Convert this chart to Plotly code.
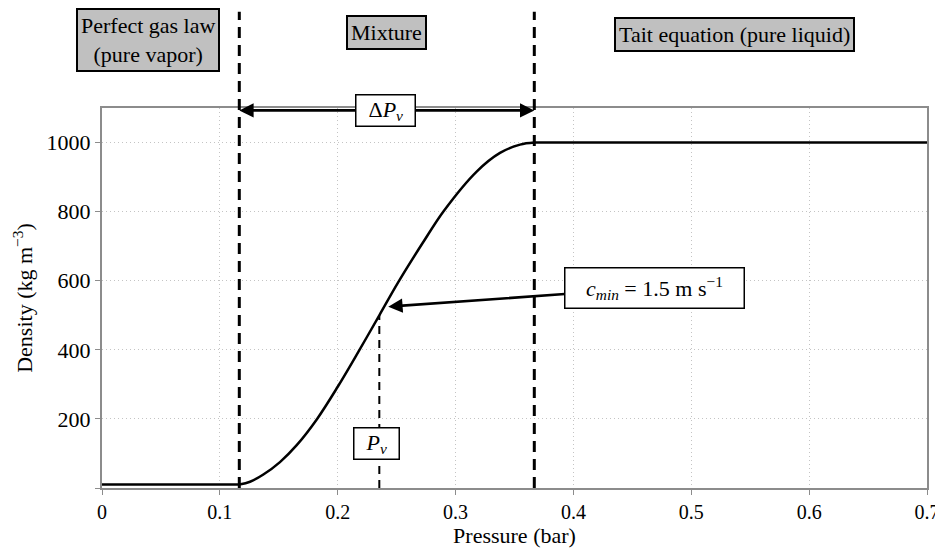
import plotly.graph_objects as go

# ---- data ----
pressure_bar = [0.0, 0.1165, 0.1256, 0.1369, 0.151, 0.1652, 0.1825, 0.2000, 0.2175,
                0.2353, 0.2514, 0.2726, 0.290, 0.3179, 0.3377, 0.3547, 0.3668, 0.7]
density = [10, 10, 18, 39, 75, 124, 200, 293, 394,
           500, 596, 712, 802, 916, 970, 994, 1000, 1000]

p_mix_start = 0.1165
p_mix_end = 0.3668
p_v = 0.2353
rho_at_pv = 500
cmin_point = (0.2429, 525)
dp_arrow_y = 1093

x_ticks = [0, 0.1, 0.2, 0.3, 0.4, 0.5, 0.6, 0.7]
x_ticklabels = ["0", "0.1", "0.2", "0.3", "0.4", "0.5", "0.6", "0.7"]
y_ticks = [0, 200, 400, 600, 800, 1000]
y_ticklabels = ["", "200", "400", "600", "800", "1000"]

FONT = "Liberation Serif, Times New Roman, serif"
FS = 22
SP = "&nbsp;"

fig = go.Figure()
line_style = dict(color="black", width=2.5)
# flat vapour branch, mixture ramp (smooth), flat liquid branch
fig.add_trace(go.Scatter(x=pressure_bar[:2], y=density[:2], mode="lines", line=line_style,
                         showlegend=False, hoverinfo="skip"))
fig.add_trace(go.Scatter(x=pressure_bar[1:-1], y=density[1:-1], mode="lines",
                         line=dict(**line_style, shape="spline", smoothing=1.0),
                         showlegend=False, hoverinfo="skip"))
fig.add_trace(go.Scatter(x=pressure_bar[-2:], y=density[-2:], mode="lines", line=line_style,
                         showlegend=False, hoverinfo="skip"))

# vertical dashed region boundaries (extend above the plot)
for xv in (p_mix_start, p_mix_end):
    fig.add_shape(type="line", xref="x", yref="paper", x0=xv, x1=xv, y0=0, y1=1.2534,
                  line=dict(color="black", width=3, dash="11px,7px"), layer="above")
# Pv dashed line
fig.add_shape(type="line", xref="x", yref="y", x0=p_v, x1=p_v, y0=0, y1=rho_at_pv,
              line=dict(color="black", width=2, dash="8px,6px"), layer="above")

# double arrow for ΔPv
mid = (p_mix_start + p_mix_end) / 2
for tip in (p_mix_start, p_mix_end):
    fig.add_annotation(x=tip, y=dp_arrow_y, ax=mid, ay=dp_arrow_y, axref="x", ayref="y",
                       xref="x", yref="y", text="", showarrow=True,
                       arrowhead=2, arrowsize=1.1, arrowwidth=2.6, arrowcolor="black")
fig.add_annotation(x=0.2405, y=dp_arrow_y, xref="x", yref="y", showarrow=False,
                   xanchor="center", yanchor="middle",
                   text=SP * 2 + "Δ<i>P</i><sub><i>v</i></sub>" + SP * 2,
                   font=dict(family=FONT, size=FS, color="black"),
                   bgcolor="white", bordercolor="black", borderwidth=1.5, borderpad=1)

# Pv label
fig.add_annotation(x=0.2333, y=128, xref="x", yref="y", showarrow=False,
                   xanchor="center", yanchor="middle",
                   text=SP * 2 + "<i>P</i><sub><i>v</i></sub>" + SP * 2,
                   font=dict(family=FONT, size=FS, color="black"),
                   bgcolor="white", bordercolor="black", borderwidth=1.5, borderpad=1)

# c_min annotation
fig.add_annotation(x=cmin_point[0], y=cmin_point[1], xref="x", yref="y",
                   ax=0.4688, ay=580, axref="x", ayref="y", showarrow=True,
                   arrowhead=2, arrowsize=1.1, arrowwidth=2.6, arrowcolor="black",
                   text=SP * 3 + "<i>c</i><sub><i>min</i></sub> = 1.5 m s<sup>−1</sup>" + SP * 3,
                   font=dict(family=FONT, size=FS, color="black"),
                   bgcolor="white", bordercolor="black", borderwidth=1.5, borderpad=4)

# region labels
box_style = dict(font=dict(family=FONT, size=FS, color="black"), bgcolor="#c0c0c0",
                 bordercolor="black", borderwidth=2, borderpad=3, showarrow=False,
                 xref="x", yref="paper", xanchor="center", yanchor="middle")
fig.add_annotation(x=0.0388, y=1.1797, text="Perfect gas law<br>(pure vapor)", **box_style)
fig.add_annotation(x=0.2417, y=1.198, text="Mixture", **box_style)
fig.add_annotation(x=0.5367, y=1.193, text="Tait equation (pure liquid)", **box_style)

axis_common = dict(showline=True, linecolor="#8c8c8c", linewidth=2, mirror=True,
                   ticks="outside", ticklen=5, tickcolor="#8c8c8c",
                   showgrid=True, gridcolor="#c4c4c4", gridwidth=1, griddash="1px,3px",
                   zeroline=False)

fig.update_xaxes(range=[0, 0.7], tickvals=x_ticks, ticktext=x_ticklabels,
                 tickfont=dict(family=FONT, size=20, color="black"),
                 title=dict(text="Pressure (bar)", font=dict(family=FONT, size=FS, color="black"),
                            standoff=2),
                 **axis_common)
fig.update_yaxes(range=[0, 1100], tickvals=y_ticks, ticktext=y_ticklabels,
                 tickfont=dict(family=FONT, size=FS, color="black"),
                 title=dict(text="Density (kg m<sup>−3</sup>)",
                            font=dict(family=FONT, size=FS, color="black"), standoff=8),
                 **axis_common)

# the page body has an 8px margin, so the figure is 8px smaller and margins shifted
fig.update_layout(width=935, height=543, margin=dict(l=94, r=16, t=100, b=63, autoexpand=False),
                  plot_bgcolor="white", paper_bgcolor="white", showlegend=False)

fig.write_html("out.html")
